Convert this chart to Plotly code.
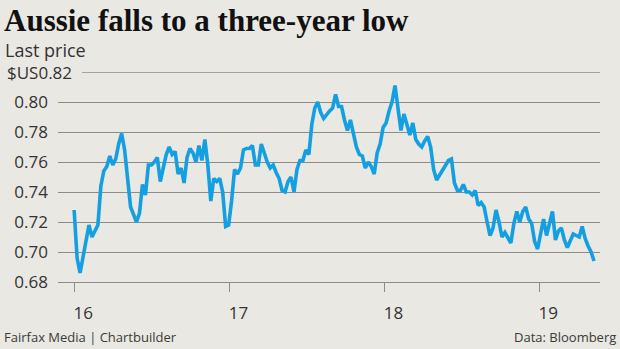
import pandas as pd
import plotly.graph_objects as go

# Weekly closing price of the Australian dollar in US dollars, Jan 2016 - May 2019
aud_usd = [
    0.728, 0.696, 0.686, 0.697, 0.708, 0.718, 0.710, 0.714, 0.718, 0.744,
    0.754, 0.757, 0.764, 0.758, 0.762, 0.772, 0.779, 0.768, 0.748, 0.730,
    0.725, 0.720, 0.726, 0.745, 0.738, 0.758, 0.758, 0.760, 0.763, 0.747,
    0.756, 0.765, 0.770, 0.765, 0.767, 0.752, 0.756, 0.746, 0.763, 0.769,
    0.766, 0.760, 0.771, 0.761, 0.775, 0.758, 0.734, 0.749, 0.747, 0.749,
    0.740, 0.717, 0.718, 0.734, 0.755, 0.752, 0.756, 0.768, 0.769, 0.769,
    0.771, 0.758, 0.758, 0.772, 0.766, 0.760, 0.756, 0.758, 0.753, 0.749,
    0.741, 0.740, 0.747, 0.750, 0.740, 0.755, 0.761, 0.761, 0.768, 0.765,
    0.785, 0.796, 0.800, 0.793, 0.789, 0.792, 0.794, 0.796, 0.805, 0.797,
    0.797, 0.788, 0.781, 0.788, 0.778, 0.770, 0.765, 0.764, 0.756, 0.760,
    0.757, 0.752, 0.766, 0.772, 0.783, 0.786, 0.794, 0.800, 0.811, 0.795,
    0.781, 0.792, 0.784, 0.778, 0.786, 0.775, 0.772, 0.770, 0.774, 0.777,
    0.770, 0.755, 0.748, 0.751, 0.755, 0.757, 0.761, 0.762, 0.746, 0.741,
    0.741, 0.745, 0.740, 0.740, 0.738, 0.741, 0.731, 0.733, 0.730, 0.720,
    0.711, 0.716, 0.728, 0.720, 0.710, 0.713, 0.710, 0.706, 0.719, 0.727,
    0.720, 0.727, 0.730, 0.722, 0.719, 0.707, 0.702, 0.713, 0.722, 0.711,
    0.720, 0.727, 0.708, 0.714, 0.716, 0.708, 0.703, 0.708, 0.712, 0.711,
    0.710, 0.717, 0.709, 0.704, 0.700, 0.694,
]
week_dates = pd.date_range("2016-01-01", periods=len(aud_usd), freq="7D")

year_ticks = ["2016-01-01", "2017-01-01", "2018-01-01", "2019-01-01"]
year_labels = ["16", "17", "18", "19"]

price_ticks = [0.68, 0.70, 0.72, 0.74, 0.76, 0.78, 0.80]
price_labels = ["0.68", "0.70", "0.72", "0.74", "0.76", "0.78", "0.80"]
top_tick = 0.82
top_label = "$US0.82"

BG = "#e9e8e3"
GRID = "#8c8c8c"
LINE = "#14a0e0"
SANS = "Open Sans, Noto Sans, sans-serif"

fig = go.Figure()
fig.add_trace(go.Scatter(
    x=week_dates, y=aud_usd, mode="lines",
    line=dict(color=LINE, width=3.6, shape="linear"),
    hoverinfo="skip",
))

W, H = 620, 349
ML, MR, MT, MB = 58, 20, 72, 67
pw, ph = W - ML - MR, H - MT - MB


def px_x(x):
    return (x - ML) / pw


def px_y(y):
    return (H - MB - y) / ph


fig.update_layout(
    width=W, height=H,
    margin=dict(l=ML, r=MR, t=MT, b=MB, pad=0),
    paper_bgcolor=BG, plot_bgcolor=BG,
    showlegend=False,
    xaxis=dict(
        type="date",
        range=["2015-11-24", "2019-05-24"],
        tickvals=year_ticks, ticktext=year_labels,
        ticks="outside", ticklen=9, tickwidth=1.2, tickcolor=GRID,
        ticklabelshift=9, ticklabelstandoff=6,
        showgrid=False, zeroline=False,
        showline=True, linecolor=GRID, linewidth=1.3,
        tickfont=dict(family=SANS, size=17, color="#333333"),
    ),
    yaxis=dict(
        range=[0.68, 0.82],
        tickvals=price_ticks, ticktext=price_labels,
        ticks="", ticklabelstandoff=9,
        showgrid=True, gridcolor=GRID, gridwidth=1.3,
        zeroline=False, showline=False,
        tickfont=dict(family=SANS, size=17, color="#333333"),
    ),
)

# Top gridline starts after its longer currency label
fig.add_shape(
    type="line", xref="paper", yref="y",
    x0=px_x(82), x1=1, y0=top_tick, y1=top_tick,
    line=dict(color=GRID, width=1.3),
)
fig.add_annotation(
    xref="paper", yref="y", x=px_x(5), y=top_tick,
    text=top_label, showarrow=False, xanchor="left", yanchor="middle",
    font=dict(family=SANS, size=17, color="#333333"),
)

# Headline, unit label and footer
fig.add_annotation(
    xref="paper", yref="paper", x=px_x(2), y=px_y(21),
    text="Aussie falls to a three-year low", showarrow=False,
    xanchor="left", yanchor="middle",
    font=dict(family="Liberation Serif, serif", size=31, color="#111111",
              weight="bold"),
)
fig.add_annotation(
    xref="paper", yref="paper", x=px_x(3), y=px_y(50),
    text="Last price", showarrow=False, xanchor="left", yanchor="middle",
    font=dict(family=SANS, size=18, color="#333333"),
)
fig.add_annotation(
    xref="paper", yref="paper", x=px_x(2), y=px_y(337),
    text="Fairfax Media | Chartbuilder", showarrow=False,
    xanchor="left", yanchor="middle",
    font=dict(family=SANS, size=13, color="#3a3a3a"),
)
fig.add_annotation(
    xref="paper", yref="paper", x=px_x(618), y=px_y(337),
    text="Data: Bloomberg", showarrow=False,
    xanchor="right", yanchor="middle",
    font=dict(family=SANS, size=13, color="#3a3a3a"),
)

fig.write_html("out.html")
